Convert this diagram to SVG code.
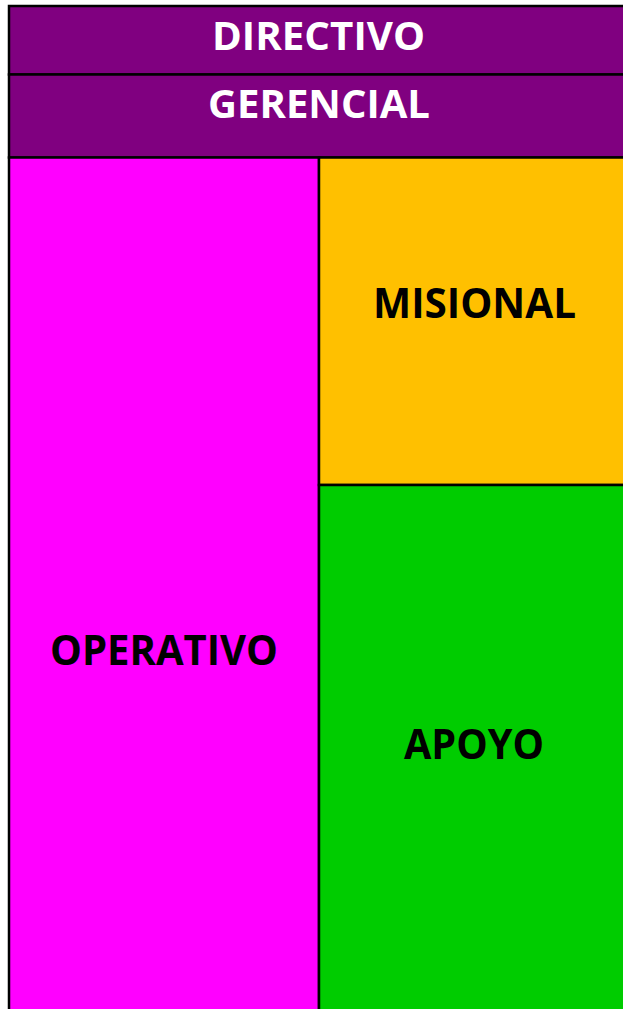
<svg xmlns="http://www.w3.org/2000/svg" width="623" height="1009" viewBox="0 0 623 1009">
<style>
.box{stroke:#000;stroke-width:2.5}
.t{font-family:"Open Sans","Liberation Sans",sans-serif;font-weight:700;text-anchor:middle}
.s{font-size:39px}
.l{font-size:42px}
.w{fill:#fff}
.k{fill:#000}
</style>
<rect width="623" height="1009" fill="#fff"/>
<g id="directivo">
<rect class="box" x="9" y="6" width="620" height="68.5" fill="#800080"/>
<text class="t s w" x="318.5" y="50" textLength="213" lengthAdjust="spacingAndGlyphs">DIRECTIVO</text>
</g>
<g id="gerencial">
<rect class="box" x="9" y="74.5" width="620" height="83" fill="#800080"/>
<text class="t s w" x="319" y="118" textLength="222" lengthAdjust="spacingAndGlyphs">GERENCIAL</text>
</g>
<g id="operativo">
<rect class="box" x="9" y="157.5" width="310" height="860" fill="#FF00FF"/>
<text class="t l k" x="164" y="665" textLength="228" lengthAdjust="spacingAndGlyphs">OPERATIVO</text>
</g>
<g id="misional">
<rect class="box" x="319" y="157.5" width="310" height="327.5" fill="#FFC000"/>
<text class="t l k" x="474.5" y="318" textLength="203" lengthAdjust="spacingAndGlyphs">MISIONAL</text>
</g>
<g id="apoyo">
<rect class="box" x="319" y="485" width="310" height="532" fill="#00CC00"/>
<text class="t l k" x="474" y="759" textLength="140" lengthAdjust="spacingAndGlyphs">APOYO</text>
</g>
<g id="connectors"></g>
</svg>
